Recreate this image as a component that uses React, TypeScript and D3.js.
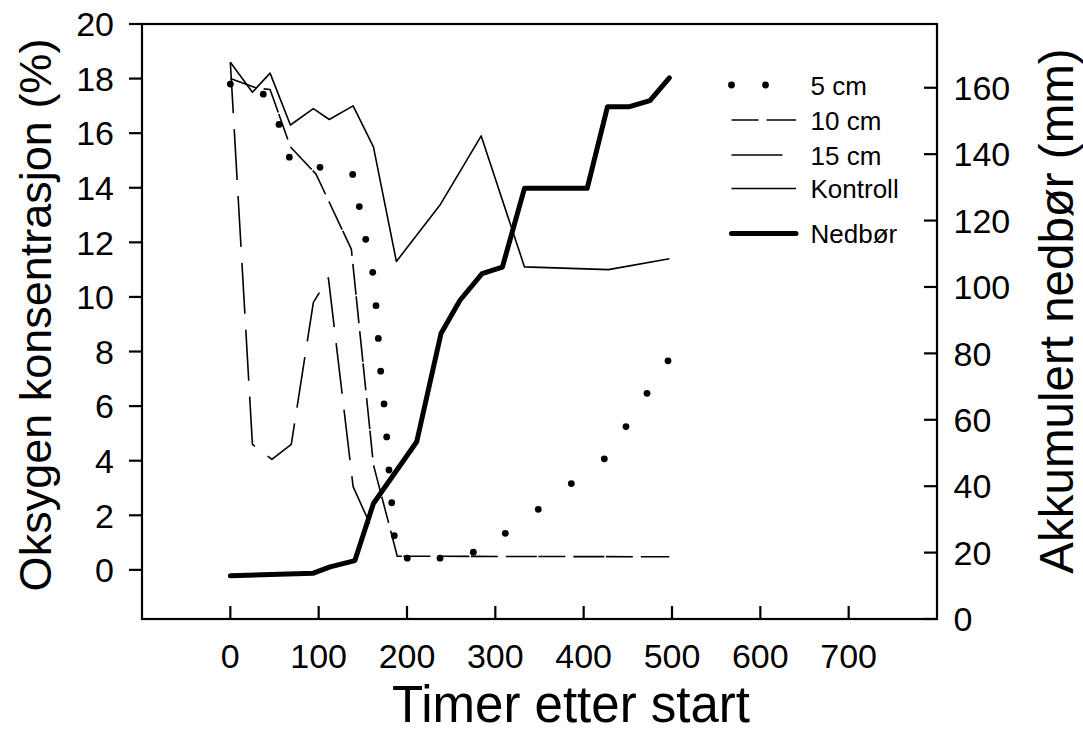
import * as d3 from "d3";

// hours after start
const kontrollTime = [0, 25, 45, 68, 94, 112, 139, 162, 188, 238, 284, 333, 428, 497];
const kontrollO2 = [18.6, 17.5, 18.2, 16.3, 16.9, 16.5, 17.0, 15.5, 11.3, 13.4, 15.9, 11.1, 11.0, 11.4];

const cm15Time = [0, 25, 47, 69, 94, 111, 139, 164];
const cm15O2 = [18.6, 4.6, 4.05, 4.6, 9.8, 10.7, 3.05, 1.25];

const cm10Time = [0, 30, 45, 68, 97, 137, 162, 189, 497];
const cm10O2 = [18.0, 17.65, 17.6, 15.5, 14.5, 11.75, 3.85, 0.5, 0.48];

// 5 cm is drawn as separate dots
const cm5Time = [
  0, 37.3, 55.1, 66.8, 101.5, 138.5, 146, 153.3, 161.2, 164.9, 167.5, 170.2, 174, 177,
  179.6, 182.7, 185.6, 200.3, 237.4, 275.1, 311.3, 348.6, 386, 423.4, 447.9, 471.7, 495.5
];
const cm5O2 = [
  17.8, 17.43, 16.32, 15.12, 14.75, 14.49, 13.31, 12.11, 10.9, 9.68, 8.48, 7.28, 6.08, 4.87,
  3.66, 2.46, 1.25, 0.43, 0.43, 0.65, 1.34, 2.22, 3.16, 4.07, 5.25, 6.47, 7.66
];

const rainTime = [0, 94, 113, 141, 162, 211, 238.5, 260, 285, 308, 333, 404, 427, 452, 475, 497];
const rainMm = [13.0, 13.8, 15.7, 17.6, 34.8, 53.4, 86, 96, 104, 106, 129.7, 129.7, 154.3, 154.3, 156.1, 163];

const xTicks = [0, 100, 200, 300, 400, 500, 600, 700];
const leftTicks = [0, 2, 4, 6, 8, 10, 12, 14, 16, 18, 20];
const rightTicks = [0, 20, 40, 60, 80, 100, 120, 140, 160];

const legendItems = ["5 cm", "10 cm", "15 cm", "Kontroll", "Nedbør"];

const W = 1083;
const H = 740;
const left = 142;
const right = 937;
const top = 24;
const bottom = 619;
const font = "'Liberation Sans', Arial, Helvetica, sans-serif";

type Pt = [number, number];

export default function App() {
  const x = d3.scaleLinear([-100, 800], [left, right]);
  const yL = d3.scaleLinear([-1.8, 20], [bottom, top]);
  const yR = d3.scaleLinear([0, 179.2], [bottom, top]);

  const lineL = d3.line<Pt>().x((d) => x(d[0])).y((d) => yL(d[1]));
  const lineR = d3.line<Pt>().x((d) => x(d[0])).y((d) => yR(d[1]));

  const kontroll = d3.zip(kontrollTime, kontrollO2) as Pt[];
  const cm15 = d3.zip(cm15Time, cm15O2) as Pt[];
  const cm10 = d3.zip(cm10Time, cm10O2) as Pt[];
  const cm5 = d3.zip(cm5Time, cm5O2) as Pt[];
  const rain = d3.zip(rainTime, rainMm) as Pt[];

  const legX0 = 731.5;
  const legX1 = 796;
  const legY = [85, 120, 155, 188.5, 233.5];

  const tick = 13;
  const tickFs = 34;

  return (
    <svg
      width={W}
      height={H}
      viewBox={`0 0 ${W} ${H}`}
      style={{ position: "absolute", left: 0, top: 0, background: "#fff" }}
      fontFamily={font}
    >
      <rect x={0} y={0} width={W} height={H} fill="#fff" />

      {/* series */}
      <g fill="none" stroke="#000" strokeLinejoin="round">
        <path d={lineL(kontroll) ?? undefined} strokeWidth={1.6} />
        <path d={lineL(cm15) ?? undefined} strokeWidth={1.6} strokeDasharray="51 16" />
        <path d={lineL(cm10) ?? undefined} strokeWidth={1.6} strokeDasharray="27 8 31 1.5" />
        <path d={lineR(rain) ?? undefined} strokeWidth={5} strokeLinecap="round" />
      </g>
      <g fill="#000">
        {cm5.map((d, i) => (
          <circle key={i} cx={x(d[0])} cy={yL(d[1])} r={3.4} />
        ))}
      </g>

      {/* frame */}
      <rect x={left} y={top} width={right - left} height={bottom - top} fill="none" stroke="#000" strokeWidth={2.2} />

      {/* x axis */}
      <g>
        {xTicks.map((t) => (
          <g key={t}>
            <line x1={x(t)} x2={x(t)} y1={bottom} y2={bottom - tick} stroke="#000" strokeWidth={2.2} />
            <text x={x(t)} y={668} textAnchor="middle" fontSize={tickFs}>
              {t}
            </text>
          </g>
        ))}
      </g>

      {/* left axis */}
      <g>
        {leftTicks.map((t) => (
          <g key={t}>
            <line x1={left - tick} x2={left} y1={yL(t)} y2={yL(t)} stroke="#000" strokeWidth={2.2} />
            <text x={114} y={yL(t) + tickFs * 0.36} textAnchor="end" fontSize={tickFs}>
              {t}
            </text>
          </g>
        ))}
      </g>

      {/* right axis */}
      <g>
        {rightTicks.map((t) => (
          <g key={t}>
            <line x1={right - tick} x2={right} y1={yR(t)} y2={yR(t)} stroke="#000" strokeWidth={2.2} />
            <text x={953.5} y={yR(t) + tickFs * 0.36} textAnchor="start" fontSize={tickFs}>
              {t}
            </text>
          </g>
        ))}
      </g>

      {/* titles */}
      <text x={571} y={722} textAnchor="middle" fontSize={51}>
        Timer etter start
      </text>
      <text transform={`translate(51, 315) rotate(-90)`} textAnchor="middle" fontSize={45}>
        Oksygen konsentrasjon (%)
      </text>
      <text transform={`translate(1073, 311) rotate(-90)`} textAnchor="middle" fontSize={47.5}>
        Akkumulert nedbør (mm)
      </text>

      {/* legend */}
      <g>
        <circle cx={legX0} cy={legY[0]} r={3.4} fill="#000" />
        <circle cx={legX0 + 34} cy={legY[0]} r={3.4} fill="#000" />
        <line x1={legX0} x2={legX1} y1={legY[1]} y2={legY[1]} stroke="#000" strokeWidth={1.6} strokeDasharray="27 8 31 1.5" />
        <line x1={legX0} x2={legX1} y1={legY[2]} y2={legY[2]} stroke="#000" strokeWidth={1.6} strokeDasharray="51 16" />
        <line x1={legX0} x2={legX1} y1={legY[3]} y2={legY[3]} stroke="#000" strokeWidth={1.6} />
        <line x1={legX0} x2={legX1} y1={legY[4]} y2={legY[4]} stroke="#000" strokeWidth={5} strokeLinecap="round" />
        {legendItems.map((label, i) => (
          <text key={label} x={810.5} y={legY[i] + 9.5} fontSize={26}>
            {label}
          </text>
        ))}
      </g>
    </svg>
  );
}
